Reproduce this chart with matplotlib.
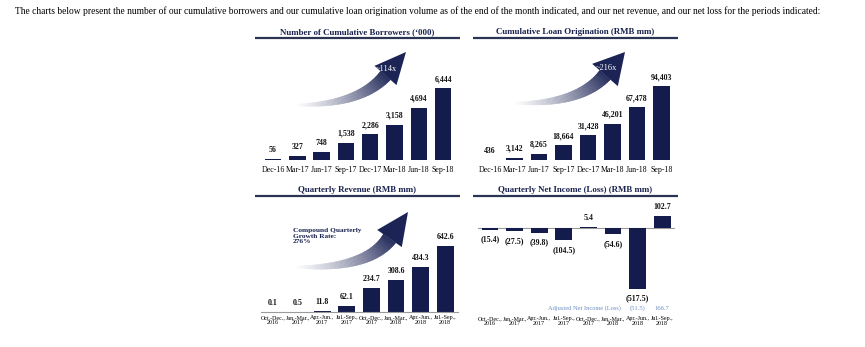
import numpy as np
import matplotlib
matplotlib.use("Agg")
import matplotlib.pyplot as plt
from matplotlib.collections import PolyCollection
from matplotlib.colors import to_rgb

plt.rcParams['font.family'] = ['Liberation Serif', 'DejaVu Serif']

# data
months = ['Dec-16', 'Mar-17', 'Jun-17', 'Sep-17', 'Dec-17', 'Mar-18', 'Jun-18', 'Sep-18']
borrowers = [56, 327, 748, 1538, 2286, 3158, 4694, 6444]
loans = [436, 3142, 8265, 18664, 31428, 46201, 67478, 94403]
quarters = ['Oct.-Dec.,\n2016', 'Jan.-Mar.,\n2017', 'Apr.-Jun.,\n2017', 'Jul.-Sep.,\n2017',
            'Oct.-Dec.,\n2017', 'Jan.-Mar.,\n2018', 'Apr.-Jun.,\n2018', 'Jul.-Sep.,\n2018']
revenue = [0.1, 0.5, 11.8, 62.1, 234.7, 308.6, 434.3, 642.6]
net_income = [-15.4, -27.5, -39.8, -104.5, 5.4, -54.6, -517.5, 102.7]
adj_quarters = [6, 7]
adj_income = [-51.5, 166.7]

NAVY = '#141c4e'
W, H = 865, 347

fig = plt.figure(figsize=(W / 100, H / 100), dpi=100)
fig.patch.set_facecolor('white')

# overlay in pixel coords
ov = fig.add_axes([0, 0, 1, 1])
ov.set_xlim(0, W)
ov.set_ylim(H, 0)
ov.axis('off')


def px_axes(x0, x1, ytop, ybot):
    a = fig.add_axes([x0 / W, 1 - ybot / H, (x1 - x0) / W, (ybot - ytop) / H])
    a.patch.set_alpha(0)
    for s in a.spines.values():
        s.set_visible(False)
    a.set_yticks([])
    a.tick_params(axis='x', length=0)
    return a


def fmt_paren(v):
    return '(%.1f)' % -v if v < 0 else '%.1f' % v


def bar_panel(x0, step, ytop, ybot, ymin, ymax, labels, vals, texts, pad, lsize):
    a = px_axes(x0 - step / 2, x0 + step * 7.5, ytop, ybot)
    x = np.arange(len(vals))
    a.bar(x, vals, width=0.68, color=NAVY)
    a.set_xlim(-0.5, 7.5)
    a.set_ylim(ymin, ymax)
    a.set_xticks(x)
    a.set_xticklabels(labels, fontsize=lsize, linespacing=1.0)
    a.tick_params(axis='x', pad=pad)
    for xi, v, t in zip(x, vals, texts):
        off = 6.5 if v >= 0 else -7
        a.annotate(t, (xi, v), xytext=(0, off), textcoords='offset points',
                   ha='center', va='center', fontsize=5.7, fontweight='bold', color='#111111')
    return a


# panel 1
bar_panel(273, 24.3, 60, 160, 0, 100 * 6444 / 72, months, borrowers,
          ['{:,}'.format(v) for v in borrowers], 4.5, 5.7)
# panel 2
bar_panel(490, 24.5, 60, 160, 0, 100 * 94403 / 74, months, loans,
          ['{:,}'.format(v) for v in loans], 4.5, 5.7)
# panel 3
a3 = bar_panel(273, 24.6, 212, 312, 0, 100 * 642.6 / 66, quarters, revenue,
               [fmt_paren(v) for v in revenue], 2.5, 4.3)
a3.spines['bottom'].set_visible(True)
a3.spines['bottom'].set_color('#9a9a9a')
a3.spines['bottom'].set_linewidth(0.8)
# panel 4
a4 = bar_panel(490, 24.6, 200, 300, -72 / 0.117, 28 / 0.117, quarters, net_income,
               [fmt_paren(v) for v in net_income], 11.5, 4.3)
a4.axhline(0, color='#9a9a9a', lw=0.8, zorder=0)
ADJ = '#6f8fc4'
for q, v in zip(adj_quarters, adj_income):
    a4.annotate(fmt_paren(v), (q, 0), xycoords=('data', 'axes fraction'), xytext=(0, -6),
                textcoords='offset points', ha='center', va='center', fontsize=4.8, color=ADJ)
a4.annotate('Adjusted Net Income (Loss)', (adj_quarters[0] - 0.7, 0),
            xycoords=('data', 'axes fraction'), xytext=(0, -6), textcoords='offset points',
            ha='right', va='center', fontsize=4.6, color=ADJ)

# headline
ov.text(15, 11, 'The charts below present the number of our cumulative borrowers and our cumulative loan '
        'origination volume as of the end of the month indicated, and our net revenue, and our net loss '
        'for the periods indicated:', fontsize=6.85, va='center', ha='left', color='black')

# titles with underline
titles = [('Number of Cumulative Borrowers (\u2018000)', 255, 460, 32),
          ('Cumulative Loan Origination (RMB mm)', 473, 678, 32),
          ('Quarterly Revenue (RMB mm)', 255, 460, 190),
          ('Quarterly Net Income (Loss) (RMB mm)', 473, 678, 190)]
for t, xa, xb, y in titles:
    ov.text((xa + xb) / 2, y, t, fontsize=6.4, fontweight='bold', color='#1a2350',
            ha='center', va='center')
    ov.plot([xa, xb], [y + 6, y + 6], color='#2b3553', lw=1.6, solid_capstyle='butt')


def grad_arrow(tail, base, tip, back, hw, bw):
    tail, base, tip = map(np.array, (tail, base, tip))
    d = (tip - base) / np.linalg.norm(tip - base)
    ctrl = base - back * d
    t = np.linspace(0, 1, 90)[:, None]
    p = (1 - t) ** 2 * tail + 2 * (1 - t) * t * ctrl + t ** 2 * base
    dp = 2 * (1 - t) * (ctrl - tail) + 2 * t * (base - ctrl)
    dp = dp / np.linalg.norm(dp, axis=1)[:, None]
    n = np.column_stack([-dp[:, 1], dp[:, 0]])
    w = (bw / 2) * (0.08 + 0.92 * t[:, 0] ** 0.8)
    up = p + n * w[:, None]
    lo = p - n * w[:, None]
    polys, cols = [], []
    c0, c1 = np.array(to_rgb('white')), np.array(to_rgb('#1c2455'))
    for i in range(len(p) - 1):
        polys.append([up[i], up[i + 1], lo[i + 1], lo[i]])
        f = t[i, 0] ** 1.1
        cols.append(c0 * (1 - f) + c1 * f)
    ov.add_collection(PolyCollection(polys, facecolors=cols, edgecolors=cols, linewidths=0.3))
    nd = np.array([-d[1], d[0]])
    ov.add_patch(plt.Polygon([base + nd * hw, tip, base - nd * hw], closed=True,
                             facecolor='#1c2455', edgecolor='none'))


grad_arrow((295, 105), (385.5, 75.5), (406, 52), 40, 14.6, 13)
grad_arrow((513, 103), (605, 75), (625, 52), 40, 17, 14)
grad_arrow((293, 267), (389.5, 238.5), (408, 212), 38, 15, 15)

ov.text(386, 69, '~114x', color='white', fontsize=6.0, ha='center', va='center')
ov.text(606, 68, '~216x', color='white', fontsize=6.0, ha='center', va='center')
ov.text(293, 236, 'Compound Quarterly\nGrowth Rate:\n276%', color='#1a2350', fontsize=5.3,
        fontweight='bold', ha='left', va='center', linespacing=1.05)

fig.savefig('out.png', dpi=100)
